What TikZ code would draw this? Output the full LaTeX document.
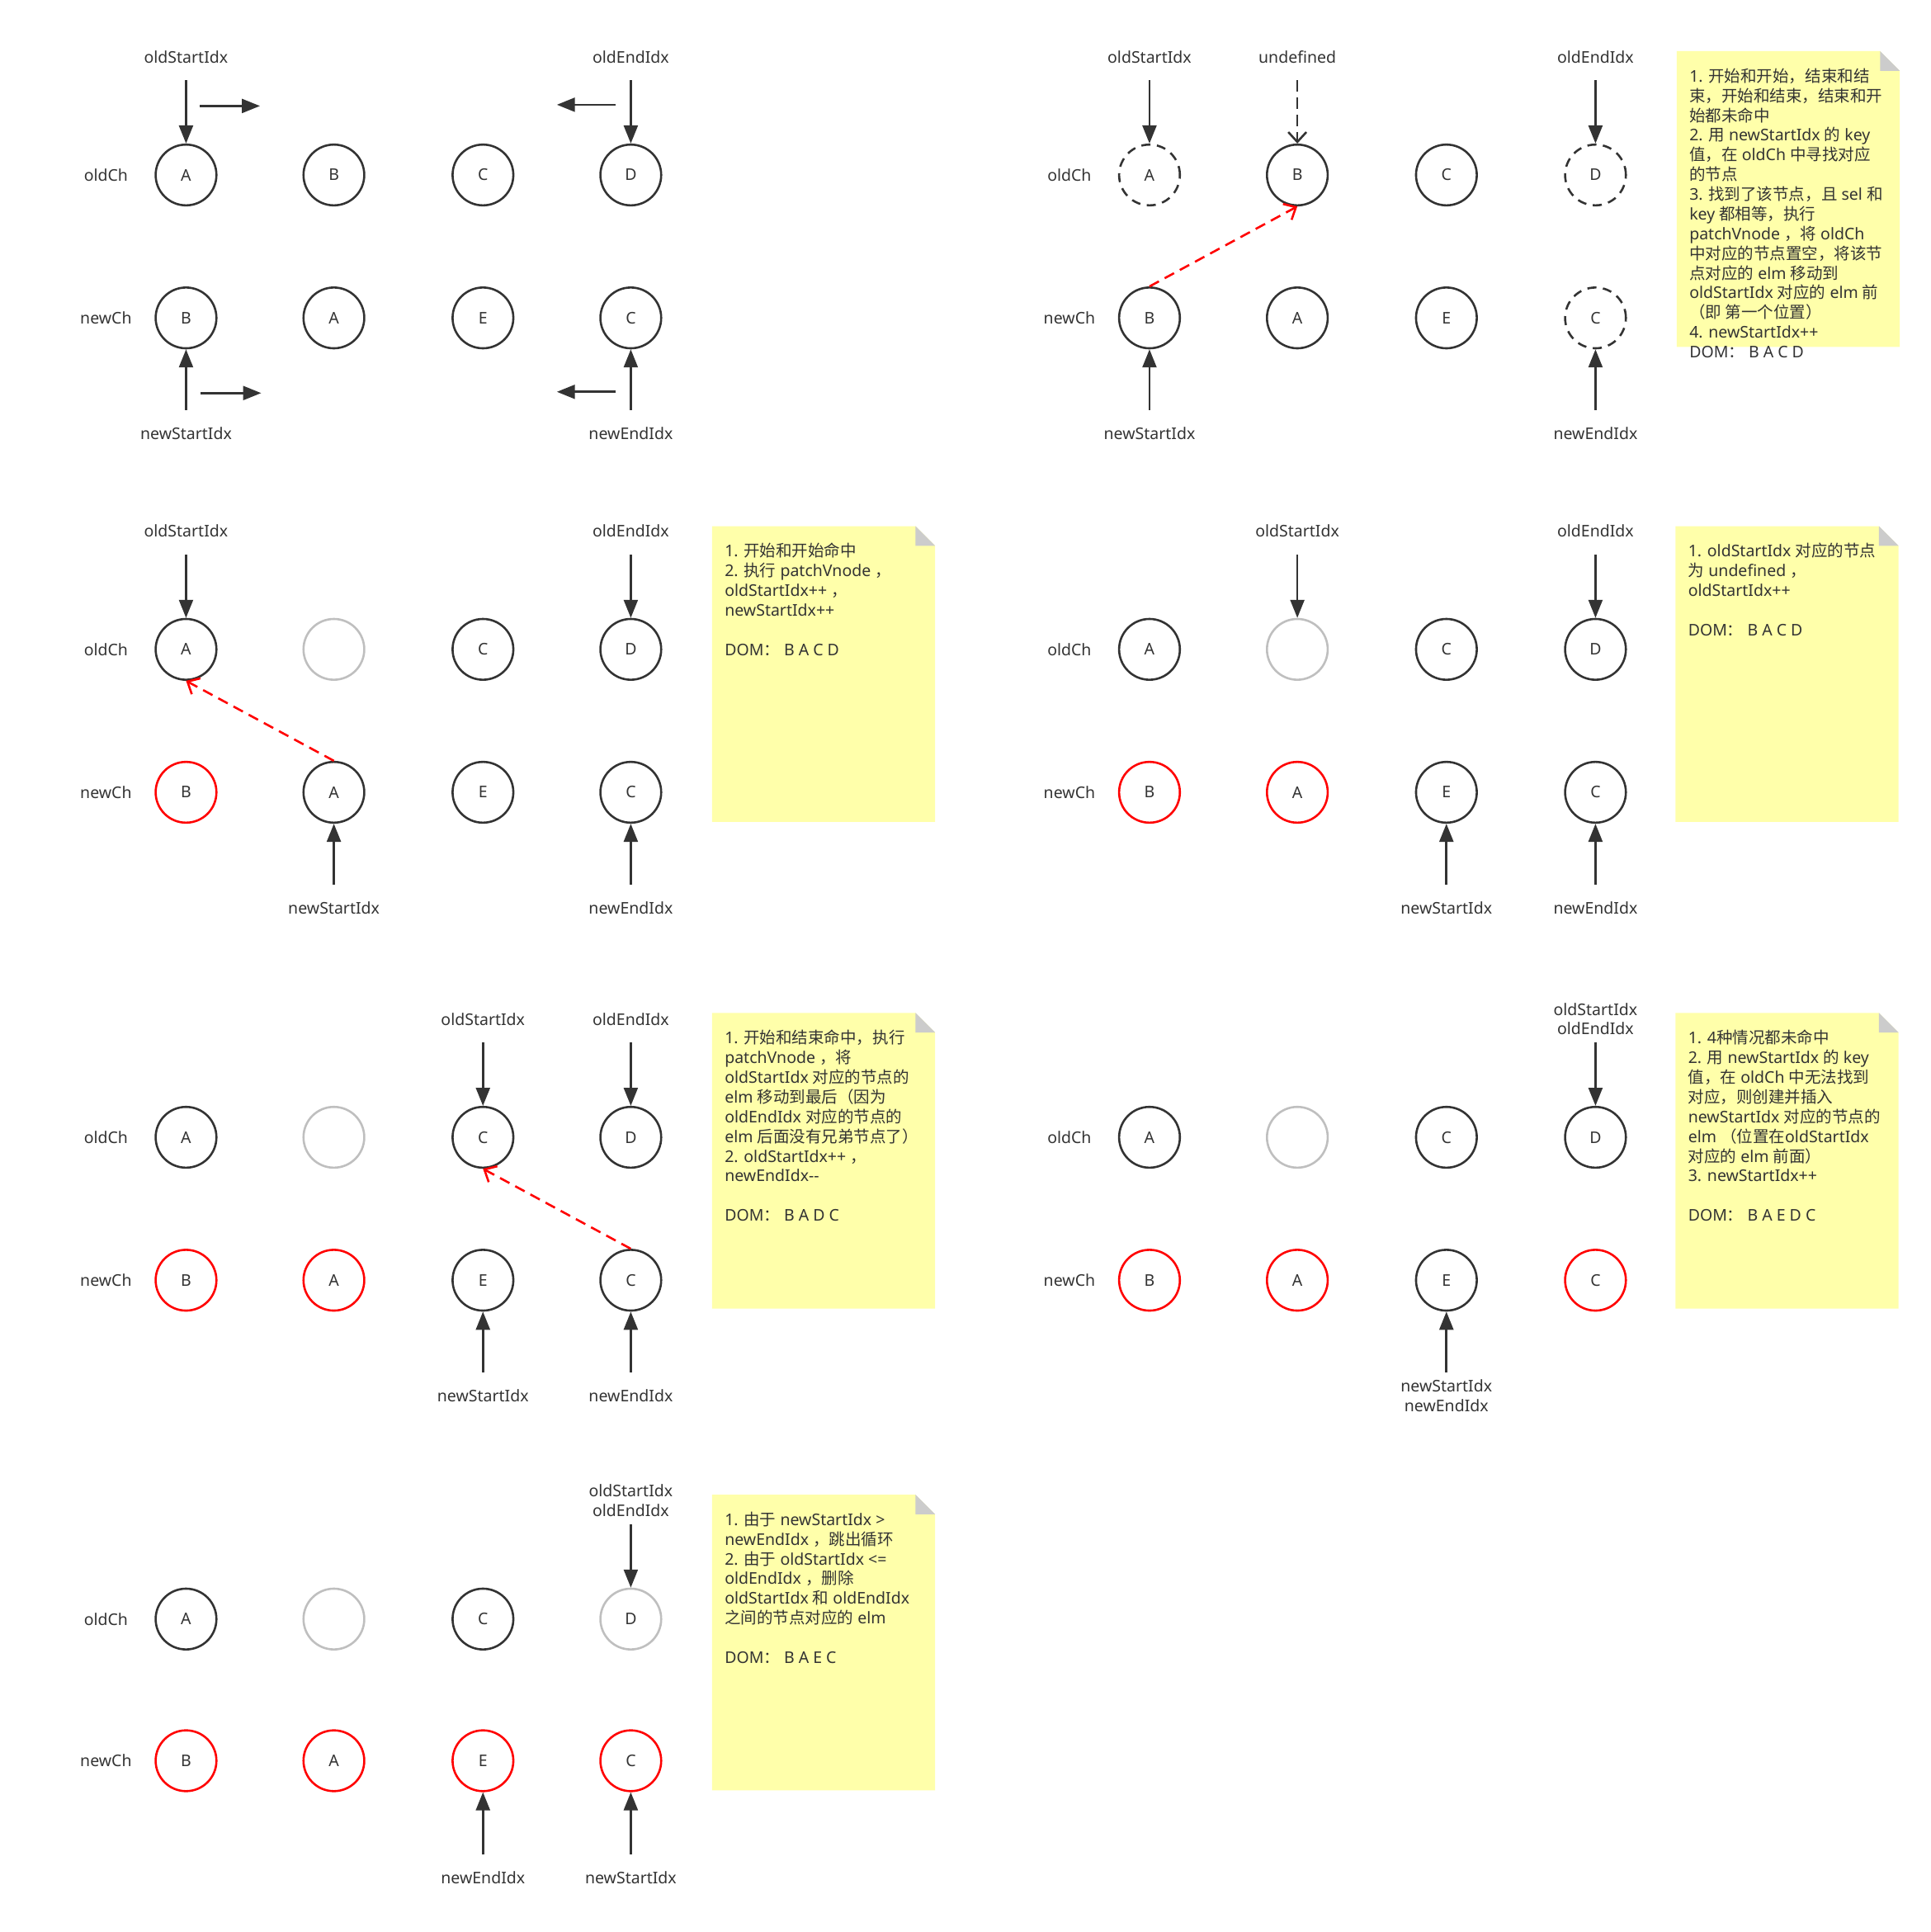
\documentclass[tikz,border=0pt]{standalone}
\usepackage{fontspec}
\setmainfont{Noto Sans}
\newfontfamily\zh{Noto Sans CJK SC}
\usepackage{tikz}
\usetikzlibrary{arrows.meta}
\definecolor{colnoeud}{RGB}{51,51,51}
\definecolor{colgris}{RGB}{191,191,191}
\definecolor{colrouge}{RGB}{255,0,0}
\definecolor{colnote}{RGB}{255,255,170}
\definecolor{colpli}{RGB}{204,204,204}
\newcommand{\txtfont}{\fontsize{9.8pt}{12pt}\selectfont}

\begin{document}
\begin{tikzpicture}[
  x=0.75pt, y=-0.75pt,
  nd/.style={circle, draw=colnoeud, line width=1.3pt, minimum size=37pt,
    inner sep=0pt, text=colnoeud, font=\txtfont},
  ndr/.style={nd, draw=colrouge},
  ndg/.style={nd, draw=colgris},
  ndd/.style={nd, dash pattern=on 5.5pt off 4pt},
  idx/.style={text=colnoeud, font=\txtfont, minimum height=28.5pt, inner sep=0pt, align=center},
  row/.style={text=colnoeud, font=\txtfont},
  ptr/.style={-{Triangle[length=11pt,width=8.5pt]}, line width=1.3pt, colnoeud},
  ptrd/.style={-{Straight Barb[length=6pt,width=11pt]}, line width=1.3pt, colnoeud,
    dash pattern=on 7pt off 3.5pt},
  mv/.style={-{Straight Barb[length=6pt,width=11pt]}, line width=1.3pt, colrouge,
    dash pattern=on 6.5pt off 4pt},
  note/.style={anchor=north west, align=left, inner sep=0pt, text=colnoeud, font=\txtfont}
]
  \useasboundingbox (0,0) rectangle (1567,1568);

  % panel 1
  \node[row] (p1old) at (86,142) {oldCh};
  \node[row] (p1new) at (86,258) {newCh};
  \node[nd] (p1oA) at (151,142) {A};
  \node[nd] (p1oB) at (271,142) {B};
  \node[nd] (p1oC) at (392,142) {C};
  \node[nd] (p1oD) at (512,142) {D};
  \node[nd] (p1nB) at (151,258) {B};
  \node[nd] (p1nA) at (271,258) {A};
  \node[nd] (p1nE) at (392,258) {E};
  \node[nd] (p1nC) at (512,258) {C};
  \node[idx] (p1os) at (151,46)  {oldStartIdx};
  \node[idx] (p1oe) at (512,46)  {oldEndIdx};
  \node[idx] (p1ns) at (151,352) {newStartIdx};
  \node[idx] (p1ne) at (512,352) {newEndIdx};
  \draw[ptr] (p1os) -- (p1oA);
  \draw[ptr] (p1oe) -- (p1oD);
  \draw[ptr] (p1ns) -- (p1nB);
  \draw[ptr] (p1ne) -- (p1nC);
  \coordinate (p1a1) at (162,86);  \coordinate (p1a2) at (211,86);
  \coordinate (p1b1) at (500,85);  \coordinate (p1b2) at (452,85);
  \coordinate (p1c1) at (163,319); \coordinate (p1c2) at (212,319);
  \coordinate (p1d1) at (500,318); \coordinate (p1d2) at (452,318);
  \draw[ptr] (p1a1) -- (p1a2);
  \draw[ptr] (p1b1) -- (p1b2);
  \draw[ptr] (p1c1) -- (p1c2);
  \draw[ptr] (p1d1) -- (p1d2);

  % panel 2
  \node[row] (p2old) at (868,142) {oldCh};
  \node[row] (p2new) at (868,258) {newCh};
  \node[ndd] (p2oA) at (933,142)  {A};
  \node[nd]  (p2oB) at (1053,142) {B};
  \node[nd]  (p2oC) at (1174,142) {C};
  \node[ndd] (p2oD) at (1295,142) {D};
  \node[nd]  (p2nB) at (933,258)  {B};
  \node[nd]  (p2nA) at (1053,258) {A};
  \node[nd]  (p2nE) at (1174,258) {E};
  \node[ndd] (p2nC) at (1295,258) {C};
  \node[idx] (p2os) at (933,46)   {oldStartIdx};
  \node[idx] (p2un) at (1053,46)  {undefined};
  \node[idx] (p2oe) at (1295,46)  {oldEndIdx};
  \node[idx] (p2ns) at (933,352)  {newStartIdx};
  \node[idx] (p2ne) at (1295,352) {newEndIdx};
  \draw[ptr]  (p2os) -- (p2oA);
  \draw[ptrd] (p2un) -- (p2oB);
  \draw[ptr]  (p2oe) -- (p2oD);
  \draw[ptr]  (p2ns) -- (p2nB);
  \draw[ptr]  (p2ne) -- (p2nC);
  \draw[mv] (p2nB.north) -- (p2oB.south);
  \fill[colnote] (1361,41.5) -- (1526,41.5) -- (1542,57.5) -- (1542,281.5) -- (1361,281.5) -- cycle;
  \fill[colpli] (1526,41.5) -- (1526,57.5) -- (1542,57.5) -- cycle;
  \node[note] (note1) at (1371,55.2) {1. {\zh 开始和开始，结束和结}\\
    {\zh 束，开始和结束，结束和开}\\
    {\zh 始都未命中}\\
    2. {\zh 用} newStartIdx {\zh 的} key\\
    {\zh 值，在} oldCh {\zh 中寻找对应}\\
    {\zh 的节点}\\
    3. {\zh 找到了该节点，且} sel {\zh 和}\\
    key {\zh 都相等，执行}\\
    patchVnode {\zh ，将} oldCh\\
    {\zh 中对应的节点置空，将该节}\\
    {\zh 点对应的} elm {\zh 移动到}\\
    oldStartIdx {\zh 对应的} elm {\zh 前}\\
    {\zh （即 第一个位置）}\\
    4. newStartIdx++\\
    DOM{\zh ：} B A C D};

  % panel 3
  \node[row] (p3old) at (86,527) {oldCh};
  \node[row] (p3new) at (86,643) {newCh};
  \node[nd]  (p3oA) at (151,527) {A};
  \node[ndg] (p3oX) at (271,527) {};
  \node[nd]  (p3oC) at (392,527) {C};
  \node[nd]  (p3oD) at (512,527) {D};
  \node[ndr] (p3nB) at (151,643) {B};
  \node[nd]  (p3nA) at (271,643) {A};
  \node[nd]  (p3nE) at (392,643) {E};
  \node[nd]  (p3nC) at (512,643) {C};
  \node[idx] (p3os) at (151,431) {oldStartIdx};
  \node[idx] (p3oe) at (512,431) {oldEndIdx};
  \node[idx] (p3ns) at (271,737) {newStartIdx};
  \node[idx] (p3ne) at (512,737) {newEndIdx};
  \draw[ptr] (p3os) -- (p3oA);
  \draw[ptr] (p3oe) -- (p3oD);
  \draw[ptr] (p3ns) -- (p3nA);
  \draw[ptr] (p3ne) -- (p3nC);
  \draw[mv] (p3nA.north) -- (p3oA.south);
  \fill[colnote] (578,427) -- (743,427) -- (759,443) -- (759,667) -- (578,667) -- cycle;
  \fill[colpli] (743,427) -- (743,443) -- (759,443) -- cycle;
  \node[note] (note2) at (588,440.7) {1. {\zh 开始和开始命中}\\
    2. {\zh 执行} patchVnode {\zh ，}\\
    oldStartIdx++ {\zh ，}\\
    newStartIdx++\\[12pt]
    DOM{\zh ：} B A C D};

  % panel 4
  \node[row] (p4old) at (868,527) {oldCh};
  \node[row] (p4new) at (868,643) {newCh};
  \node[nd]  (p4oA) at (933,527)  {A};
  \node[ndg] (p4oX) at (1053,527) {};
  \node[nd]  (p4oC) at (1174,527) {C};
  \node[nd]  (p4oD) at (1295,527) {D};
  \node[ndr] (p4nB) at (933,643)  {B};
  \node[ndr] (p4nA) at (1053,643) {A};
  \node[nd]  (p4nE) at (1174,643) {E};
  \node[nd]  (p4nC) at (1295,643) {C};
  \node[idx] (p4os) at (1053,431) {oldStartIdx};
  \node[idx] (p4oe) at (1295,431) {oldEndIdx};
  \node[idx] (p4ns) at (1174,737) {newStartIdx};
  \node[idx] (p4ne) at (1295,737) {newEndIdx};
  \draw[ptr] (p4os) -- (p4oX);
  \draw[ptr] (p4oe) -- (p4oD);
  \draw[ptr] (p4ns) -- (p4nE);
  \draw[ptr] (p4ne) -- (p4nC);
  \fill[colnote] (1360,427) -- (1525,427) -- (1541,443) -- (1541,667) -- (1360,667) -- cycle;
  \fill[colpli] (1525,427) -- (1525,443) -- (1541,443) -- cycle;
  \node[note] (note3) at (1370,440.7) {1. oldStartIdx {\zh 对应的节点}\\
    {\zh 为} undefined {\zh ，}\\
    oldStartIdx++\\[12pt]
    DOM{\zh ：} B A C D};

  % panel 5
  \node[row] (p5old) at (86,923) {oldCh};
  \node[row] (p5new) at (86,1039) {newCh};
  \node[nd]  (p5oA) at (151,923)  {A};
  \node[ndg] (p5oX) at (271,923)  {};
  \node[nd]  (p5oC) at (392,923)  {C};
  \node[nd]  (p5oD) at (512,923)  {D};
  \node[ndr] (p5nB) at (151,1039) {B};
  \node[ndr] (p5nA) at (271,1039) {A};
  \node[nd]  (p5nE) at (392,1039) {E};
  \node[nd]  (p5nC) at (512,1039) {C};
  \node[idx] (p5os) at (392,827)  {oldStartIdx};
  \node[idx] (p5oe) at (512,827)  {oldEndIdx};
  \node[idx] (p5ns) at (392,1133) {newStartIdx};
  \node[idx] (p5ne) at (512,1133) {newEndIdx};
  \draw[ptr] (p5os) -- (p5oC);
  \draw[ptr] (p5oe) -- (p5oD);
  \draw[ptr] (p5ns) -- (p5nE);
  \draw[ptr] (p5ne) -- (p5nC);
  \draw[mv] (p5nC.north) -- (p5oC.south);
  \fill[colnote] (578,822) -- (743,822) -- (759,838) -- (759,1062) -- (578,1062) -- cycle;
  \fill[colpli] (743,822) -- (743,838) -- (759,838) -- cycle;
  \node[note] (note4) at (588,835.7) {1. {\zh 开始和结束命中，执行}\\
    patchVnode {\zh ，将}\\
    oldStartIdx {\zh 对应的节点的}\\
    elm {\zh 移动到最后（因为}\\
    oldEndIdx {\zh 对应的节点的}\\
    elm {\zh 后面没有兄弟节点了）}\\
    2. oldStartIdx++ {\zh ，}\\
    newEndIdx-{}-\\[12pt]
    DOM{\zh ：} B A D C};

  % panel 6
  \node[row] (p6old) at (868,923) {oldCh};
  \node[row] (p6new) at (868,1039) {newCh};
  \node[nd]  (p6oA) at (933,923)   {A};
  \node[ndg] (p6oX) at (1053,923)  {};
  \node[nd]  (p6oC) at (1174,923)  {C};
  \node[nd]  (p6oD) at (1295,923)  {D};
  \node[ndr] (p6nB) at (933,1039)  {B};
  \node[ndr] (p6nA) at (1053,1039) {A};
  \node[nd]  (p6nE) at (1174,1039) {E};
  \node[ndr] (p6nC) at (1295,1039) {C};
  \node[idx] (p6oi) at (1295,827)  {oldStartIdx\\oldEndIdx};
  \node[idx] (p6ni) at (1174,1133) {newStartIdx\\newEndIdx};
  \draw[ptr] (p6oi) -- (p6oD);
  \draw[ptr] (p6ni) -- (p6nE);
  \fill[colnote] (1360,822) -- (1525,822) -- (1541,838) -- (1541,1062) -- (1360,1062) -- cycle;
  \fill[colpli] (1525,822) -- (1525,838) -- (1541,838) -- cycle;
  \node[note] (note5) at (1370,835.7) {1. 4{\zh 种情况都未命中}\\
    2. {\zh 用} newStartIdx {\zh 的} key\\
    {\zh 值，在} oldCh {\zh 中无法找到}\\
    {\zh 对应，则创建并插入}\\
    newStartIdx {\zh 对应的节点的}\\
    elm {\zh （位置在}oldStartIdx\\
    {\zh 对应的} elm {\zh 前面）}\\
    3. newStartIdx++\\[12pt]
    DOM{\zh ：} B A E D C};

  % panel 7
  \node[row] (p7old) at (86,1314) {oldCh};
  \node[row] (p7new) at (86,1429) {newCh};
  \node[nd]  (p7oA) at (151,1314) {A};
  \node[ndg] (p7oX) at (271,1314) {};
  \node[nd]  (p7oC) at (392,1314) {C};
  \node[ndg] (p7oD) at (512,1314) {D};
  \node[ndr] (p7nB) at (151,1429) {B};
  \node[ndr] (p7nA) at (271,1429) {A};
  \node[ndr] (p7nE) at (392,1429) {E};
  \node[ndr] (p7nC) at (512,1429) {C};
  \node[idx] (p7oi) at (512,1218) {oldStartIdx\\oldEndIdx};
  \node[idx] (p7ne) at (392,1524) {newEndIdx};
  \node[idx] (p7ns) at (512,1524) {newStartIdx};
  \draw[ptr] (p7oi) -- (p7oD);
  \draw[ptr] (p7ne) -- (p7nE);
  \draw[ptr] (p7ns) -- (p7nC);
  \fill[colnote] (578,1213) -- (743,1213) -- (759,1229) -- (759,1453) -- (578,1453) -- cycle;
  \fill[colpli] (743,1213) -- (743,1229) -- (759,1229) -- cycle;
  \node[note] (note6) at (588,1226.7) {1. {\zh 由于} newStartIdx >\\
    newEndIdx {\zh ，跳出循环}\\
    2. {\zh 由于} oldStartIdx <=\\
    oldEndIdx {\zh ，删除}\\
    oldStartIdx {\zh 和} oldEndIdx\\
    {\zh 之间的节点对应的} elm\\[12pt]
    DOM{\zh ：} B A E C};
\end{tikzpicture}
\end{document}
